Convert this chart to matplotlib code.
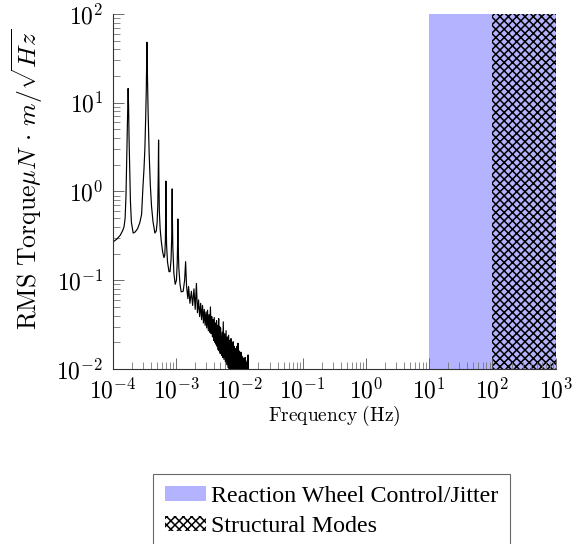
import numpy as np
import matplotlib
matplotlib.use("Agg")
import matplotlib.pyplot as plt
from matplotlib.patches import Patch
from matplotlib.ticker import LogLocator, FuncFormatter, NullFormatter

plt.rcParams['mathtext.fontset'] = 'cm'
plt.rcParams['hatch.linewidth'] = 1.1
plt.rcParams['hatch.color'] = 'black'

# ---- data (frequency in mHz, RMS torque in uN*m/sqrt(Hz)) ----
smooth_freq_mHz = [0.100, 0.115, 0.130, 0.142, 0.150, 0.156, 0.161, 0.165, 0.168, 0.171,
                   0.174, 0.177, 0.180, 0.184, 0.189, 0.196, 0.209, 0.225, 0.245, 0.265,
                   0.284, 0.298, 0.310, 0.320, 0.330, 0.337, 0.342, 0.345, 0.348, 0.353,
                   0.360, 0.374, 0.390, 0.408, 0.430, 0.461, 0.485, 0.500, 0.512, 0.520,
                   0.527, 0.533, 0.542, 0.558, 0.580, 0.610, 0.640, 0.660, 0.675, 0.683,
                   0.688, 0.694, 0.705, 0.730, 0.770, 0.800, 0.830, 0.850, 0.860, 0.865,
                   0.870, 0.885, 0.920, 0.965, 1.010, 1.040, 1.055, 1.064, 1.075, 1.100,
                   1.150, 1.200, 1.290, 1.360, 1.395, 1.410, 1.425, 1.460, 1.530]
smooth_torque = [0.27, 0.29, 0.32, 0.36, 0.40, 0.50, 0.90, 2.2, 4.5, 9.0,
                 14.5, 9.0, 4.0, 1.9, 0.80, 0.45, 0.34, 0.35, 0.38, 0.44,
                 0.55, 1.1, 1.8, 3.0, 7.0, 14.0, 28.0, 48.0, 30.0, 18.0,
                 8.0, 2.7, 1.2, 0.68, 0.46, 0.34, 0.36, 0.45, 0.70, 1.4,
                 3.8, 1.4, 0.60, 0.38, 0.28, 0.21, 0.18, 0.19, 0.28, 0.55,
                 1.31, 0.50, 0.25, 0.16, 0.125, 0.125, 0.17, 0.30, 0.60, 1.07,
                 0.55, 0.24, 0.12, 0.09, 0.10, 0.16, 0.28, 0.49, 0.26, 0.14,
                 0.09, 0.074, 0.075, 0.10, 0.14, 0.162, 0.13, 0.085, 0.062]

peak_freq_mHz = [1.57, 1.74, 1.91, 2.09, 2.26, 2.44, 2.61, 2.78, 2.96, 3.13,
                 3.31, 3.48, 3.65, 3.83, 4.00, 4.18, 4.35, 4.52, 4.70, 4.87,
                 5.05, 5.35, 5.55, 5.85, 6.15, 6.45, 6.75, 7.05, 7.35, 7.65,
                 7.95, 8.25, 8.55, 8.85, 9.15, 9.50, 9.85, 10.2, 10.55, 10.9,
                 11.25, 11.6, 11.95, 12.3, 12.65, 13.0, 13.35, 13.7, 14.05, 14.4,
                 14.8, 15.2]
peak_torque = [0.085, 0.075, 0.080, 0.092, 0.060, 0.055, 0.052, 0.047, 0.044, 0.046,
               0.041, 0.050, 0.039, 0.036, 0.038, 0.033, 0.035, 0.031, 0.037, 0.030,
               0.029, 0.026, 0.034, 0.025, 0.027, 0.023, 0.024, 0.021, 0.022, 0.019,
               0.0203, 0.018, 0.017, 0.0165, 0.018, 0.0195, 0.016, 0.015, 0.0155, 0.014,
               0.0135, 0.013, 0.0125, 0.0135, 0.012, 0.0115, 0.0125, 0.0144, 0.0095, 0.009,
               0.0085, 0.008]
trough_freq_mHz = [1.65, 1.82, 2.00, 2.17, 2.35, 2.52, 2.70, 2.87, 3.04, 3.22,
                   3.39, 3.57, 3.74, 3.91, 4.09, 4.26, 4.44, 4.61, 4.78, 4.96,
                   5.20, 5.45, 5.70, 6.00, 6.30, 6.60, 6.90, 7.20, 7.50, 7.80,
                   8.10, 8.40, 8.70, 9.00, 9.33, 9.68, 10.0, 10.4, 10.7, 11.1,
                   11.4, 11.8, 12.1, 12.5, 12.8, 13.2, 13.5, 13.9, 14.2, 14.6,
                   15.0]
trough_torque = [0.055, 0.052, 0.047, 0.043, 0.039, 0.036, 0.033, 0.031, 0.029, 0.027,
                 0.026, 0.025, 0.023, 0.021, 0.020, 0.019, 0.018, 0.0165, 0.016, 0.015,
                 0.0142, 0.0135, 0.0128, 0.0120, 0.0112, 0.0104, 0.0098, 0.0093, 0.0088, 0.0084,
                 0.0080, 0.0077, 0.0073, 0.0070, 0.0067, 0.0064, 0.0061, 0.0059, 0.0057, 0.0054,
                 0.0052, 0.0050, 0.0048, 0.0047, 0.0045, 0.0044, 0.0043, 0.0041, 0.0040, 0.0039,
                 0.0037]

rw_band_hz = [10, 1000]       # Reaction Wheel Control/Jitter
struct_band_hz = [100, 1000]  # Structural Modes
band_labels = ["Reaction Wheel Control/Jitter", "Structural Modes"]
x_decades = [-4, -3, -2, -1, 0, 1, 2, 3]
y_decades = [-2, -1, 0, 1, 2]

# assemble the spectrum
f_all = np.concatenate([smooth_freq_mHz, peak_freq_mHz, trough_freq_mHz]) * 1e-3
t_all = np.concatenate([smooth_torque, peak_torque, trough_torque])
order = np.argsort(f_all)
freq = f_all[order]
torque = t_all[order]

fig = plt.figure(figsize=(5.85, 5.44), dpi=100)
ax = fig.add_axes([0.193, 0.3217, 0.757, 0.6526])

blue = '#b3b3ff'
ax.axvspan(rw_band_hz[0], rw_band_hz[1], facecolor=blue, edgecolor='none', zorder=0)
ax.axvspan(struct_band_hz[0], struct_band_hz[1], facecolor='none', edgecolor='black',
           linewidth=0, hatch='xxxx', zorder=0.5)

ax.plot(freq, torque, color='black', linewidth=0.85, zorder=2)

ax.set_xscale('log')
ax.set_yscale('log')
ax.set_xlim(10.0 ** x_decades[0], 10.0 ** x_decades[-1])
ax.set_ylim(10.0 ** y_decades[0], 10.0 ** y_decades[-1])

ax.xaxis.set_major_locator(LogLocator(base=10, numticks=20))
ax.yaxis.set_major_locator(LogLocator(base=10, numticks=20))
ax.xaxis.set_minor_locator(LogLocator(base=10, subs=np.arange(2, 10), numticks=20))
ax.yaxis.set_minor_locator(LogLocator(base=10, subs=np.arange(2, 10), numticks=20))
fmt = FuncFormatter(lambda v, p: r'$10^{%d}$' % int(round(np.log10(v))))
ax.xaxis.set_major_formatter(fmt)
ax.yaxis.set_major_formatter(fmt)
ax.xaxis.set_minor_formatter(NullFormatter())
ax.yaxis.set_minor_formatter(NullFormatter())

for s in ['top', 'right']:
    ax.spines[s].set_visible(False)
for s in ['left', 'bottom']:
    ax.spines[s].set_linewidth(0.8)
    ax.spines[s].set_color('#333333')
    ax.spines[s].set_zorder(3)

ax.tick_params(which='major', direction='in', length=8, width=0.6, color='#555555',
               labelsize=17)
ax.tick_params(which='minor', direction='in', length=5, width=0.6, color='#777777')
ax.tick_params(axis='x', which='major', pad=7)
ax.tick_params(axis='y', which='major', pad=7)

ax.set_xlabel(r'$\mathrm{Frequency\ (Hz)}$', fontsize=14, labelpad=0)
ax.set_ylabel(r'$\mathrm{RMS\ Torque}\mu N\,\cdot\,m/\sqrt{Hz}$', fontsize=18.5)
ax.yaxis.set_label_coords(-0.153, 0.535)

handles = [Patch(facecolor=blue, edgecolor='none'),
           Patch(facecolor='white', edgecolor='black', linewidth=0, hatch='xxxx')]
leg = fig.legend(handles, band_labels, loc='upper left', bbox_to_anchor=(0.2615, 0.1287),
                 borderaxespad=0, frameon=True, fancybox=False, edgecolor='#444444',
                 prop={'family': 'Liberation Serif', 'size': 17.3},
                 handlelength=1.72, handleheight=0.57, handletextpad=0.2,
                 labelspacing=0.38, borderpad=0.5)
leg.get_frame().set_linewidth(0.8)

fig.savefig('out.png', dpi=100)
